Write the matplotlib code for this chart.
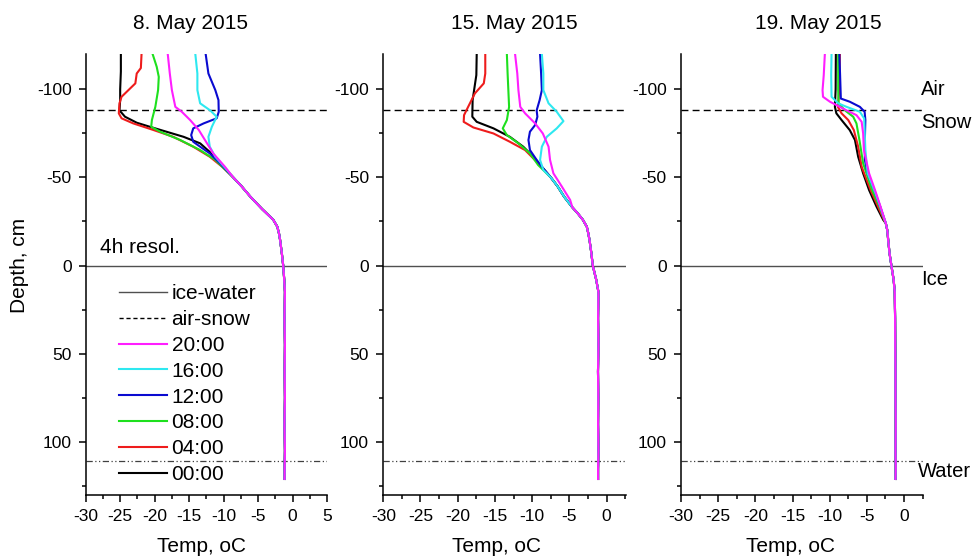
import matplotlib
matplotlib.use("Agg")
import matplotlib.pyplot as plt
from matplotlib.lines import Line2D
from matplotlib.ticker import MultipleLocator
import matplotlib.transforms as mtransforms

plt.rcParams['font.family'] = ['Liberation Sans', 'DejaVu Sans']
plt.rcParams['axes.unicode_minus'] = False

# --- data: depth (cm, negative = above ice surface) and temperature (oC) ---
titles = ["8. May 2015", "15. May 2015", "19. May 2015"]
times = ["00:00", "04:00", "08:00", "12:00", "16:00", "20:00"]
colors = ["#000000", "#ee1c1c", "#1ee01e", "#0a0ad0", "#2ee8f0", "#ff1eff"]

air_snow = -88
ice_water = 0
ice_bottom = 111

# 8 May, upper (air/snow) part of each profile
d1_0000 = [-120, -110, -100, -94, -88, -84.4, -81, -78.7, -73, -69.3, -64.6, -57]
t1_0000 = [-24.9, -24.9, -25.0, -25.0, -25.1, -24.3, -22.6, -20.7, -15.8, -13.4, -12.05, -10.3]
d1_0400 = [-120, -112, -108.9, -103.3, -99.5, -95.7, -92, -86.3, -83.5, -80.6, -76.9, -73, -67.4, -61.7, -56]
t1_0400 = [-21.9, -22.0, -22.6, -22.8, -23.8, -24.8, -25.1, -25.2, -24.8, -23.1, -20.2, -17.3, -14.4, -12.0, -10.2]
d1_0800 = [-120, -112.7, -107, -99.5, -90, -82.5, -78.7, -75.9, -71.2, -65.5, -59.9]
t1_0800 = [-20.3, -19.7, -19.4, -19.5, -19.9, -20.4, -20.5, -19.2, -16.3, -13.4, -11.2]
d1_1200 = [-120, -108.9, -99.5, -93.8, -87.2, -83.5, -80.6, -77.8, -74, -70.2, -67.4, -63.6, -57.9]
t1_1200 = [-12.6, -12.2, -11.2, -10.74, -10.7, -11.0, -12.9, -14.4, -14.7, -14.4, -13.4, -12.0, -10.5]
d1_1600 = [-120, -108.9, -99.5, -92, -88, -84.4, -78.7, -73, -67.4, -61.7, -54.2]
t1_1600 = [-14.1, -13.8, -13.8, -13.4, -11.95, -11.0, -11.7, -12.2, -12.0, -11.2, -9.5]
d1_2000 = [-120, -108.9, -99.5, -90, -87.2, -82.5, -76.9, -71.2, -63.6, -56]
t1_2000 = [-18.1, -17.8, -17.5, -17.0, -16.06, -14.85, -13.6, -12.7, -11.5, -9.8]
# 8 May, shared lower part (snow and ice)
d1_tail = [-50, -45, -39, -32, -26, -22, -18, -14.5, -7, 0, 8, 15, 30, 45, 60, 75, 90, 105, 115, 121]
t1_tail = [-8.6, -7.4, -6.1, -4.4, -2.8, -2.2, -1.95, -1.8, -1.55, -1.35, -1.2, -1.1, -1.16, -1.1, -1.14, -1.1, -1.16, -1.1, -1.14, -1.15]

# 15 May
d2_0000 = [-120, -108, -99.5, -93.8, -84.4, -81.5, -77.8, -73, -67.4, -61.7, -56]
t2_0000 = [-17.45, -17.5, -17.8, -18.0, -18.04, -17.45, -15.2, -13.0, -11.2, -9.84, -8.7]
d2_0400 = [-120, -108.9, -103.3, -97.6, -90, -85.3, -81.5, -78.3, -74.9, -70.2, -65.5, -58.9]
t2_0400 = [-16.3, -16.3, -16.5, -17.7, -18.6, -19.15, -19.2, -17.9, -15.2, -13.0, -10.96, -9.4]
d2_0800 = [-120, -108.9, -90, -82.5, -77.8, -74, -69.3, -63.6, -57]
t2_0800 = [-13.4, -13.3, -13.1, -13.4, -13.95, -13.4, -11.85, -10.3, -9.2]
d2_1200 = [-120, -108.9, -99.5, -93.8, -88, -84.4, -79.7, -75.9, -71.2, -65.5, -59.9, -56]
t2_1200 = [-8.94, -8.8, -8.7, -9.0, -9.4, -9.3, -9.6, -10.3, -10.5, -10.3, -9.4, -8.7]
d2_1600 = [-120, -108.9, -99.5, -92, -87.2, -81.9, -77.8, -73, -67.4, -59.9, -54.2]
t2_1600 = [-8.7, -8.5, -8.5, -7.8, -6.7, -5.8, -6.7, -8.04, -8.7, -8.94, -8.5]
d2_2000 = [-120, -108.9, -99.5, -90, -86.3, -80.6, -74.9, -67.4, -59.9, -52.3, -44.7, -37.2]
t2_2000 = [-12.3, -12.0, -11.85, -11.6, -10.95, -9.6, -8.57, -7.8, -7.6, -7.15, -6.0, -4.9]
d2_tail = [-50, -45, -39, -33, -29.7, -26, -22, -18, -14.5, -7, 0, 8, 15, 30, 45, 60, 75, 90, 105, 115, 121]
t2_tail = [-7.5, -6.6, -5.7, -4.6, -3.9, -3.2, -2.66, -2.45, -2.3, -2.05, -1.86, -1.4, -1.1, -1.15, -1.1, -1.16, -1.12, -1.15, -1.1, -1.15, -1.15]

# 19 May
d3_0000 = [-120, -100, -90, -86.3, -82.5, -76.8, -71.2, -61.7, -52.3, -42.8, -33.4, -25.9]
t3_0000 = [-9.17, -9.2, -9.3, -9.1, -8.4, -7.3, -6.6, -6.17, -5.5, -4.7, -3.7, -2.8]
d3_0400 = [-120, -100, -90, -86.3, -82.5, -76.8, -67.4, -56, -42.8, -33.4, -25]
t3_0400 = [-8.63, -8.7, -8.9, -8.4, -7.5, -6.75, -6.17, -5.7, -4.5, -3.5, -2.6]
d3_0800 = [-120, -99.5, -92, -88, -84.4, -80.6, -71.2, -57.9, -42.8, -33.4, -25]
t3_0800 = [-8.86, -8.86, -8.8, -7.95, -6.84, -6.4, -6.0, -5.5, -4.3, -3.3, -2.55]
d3_1200 = [-120, -108, -94.7, -92.9, -90, -87.2, -82.5, -71.2, -59.9, -52.3, -42.8, -33.4]
t3_1200 = [-8.7, -8.6, -8.5, -7.3, -5.94, -5.3, -5.2, -5.27, -5.27, -4.9, -4.0, -3.2]
d3_1600 = [-120, -108, -95.7, -92, -90, -87.2, -83.4, -76.8, -65.5, -52.3, -42.8, -33.4]
t3_1600 = [-9.75, -9.8, -9.75, -8.86, -7.73, -5.94, -5.36, -5.3, -5.2, -4.9, -4.0, -3.2]
d3_2000 = [-120, -108, -99.5, -95.7, -92.9, -91, -88, -85.3, -81.5, -74.9, -65.5, -52.3, -42.8, -33.4]
t3_2000 = [-10.65, -10.8, -10.96, -10.9, -9.97, -9.1, -7.73, -6.4, -5.7, -5.5, -5.4, -4.7, -3.9, -3.16]
d3_tail = [-24, -20, -14.5, -7, 0, 8, 15, 30, 45, 60, 75, 90, 105, 115, 121]
t3_tail = [-2.45, -2.25, -2.13, -1.95, -1.7, -1.4, -1.25, -1.2, -1.18, -1.15, -1.15, -1.12, -1.15, -1.12, -1.15]

panels = [
    ([(d1_0000, t1_0000), (d1_0400, t1_0400), (d1_0800, t1_0800),
      (d1_1200, t1_1200), (d1_1600, t1_1600), (d1_2000, t1_2000)], (d1_tail, t1_tail)),
    ([(d2_0000, t2_0000), (d2_0400, t2_0400), (d2_0800, t2_0800),
      (d2_1200, t2_1200), (d2_1600, t2_1600), (d2_2000, t2_2000)], (d2_tail, t2_tail)),
    ([(d3_0000, t3_0000), (d3_0400, t3_0400), (d3_0800, t3_0800),
      (d3_1200, t3_1200), (d3_1600, t3_1600), (d3_2000, t3_2000)], (d3_tail, t3_tail)),
]


def full_profile(upper, tail):
    # upper part of a profile followed by the shared lower part below it
    d, t = list(upper[0]), list(upper[1])
    for dd, tt in zip(tail[0], tail[1]):
        if dd > d[-1]:
            d.append(dd)
            t.append(tt)
    return d, t


fig = plt.figure(figsize=(9.74, 5.56), dpi=100)
axes_boxes = [(0.088, 0.110, 0.2477, 0.793),
              (0.3935, 0.110, 0.2492, 0.793),
              (0.6992, 0.110, 0.2488, 0.793)]
xlims = [(-30, 5), (-30, 2.6), (-30, 2.6)]
title_x = [0.1956, 0.5277, 0.8398]
xlabel_x = [0.478, 0.468, 0.45]

for i, (box, (profiles, tail)) in enumerate(zip(axes_boxes, panels)):
    ax = fig.add_axes(box)
    for (upper, c) in zip(profiles, colors):
        d, t = full_profile(upper, tail)
        ax.plot(t, d, color=c, lw=1.5, zorder=3)

    ax.axhline(ice_water, color="#505050", lw=1.0, zorder=2)
    ax.axhline(air_snow, color="black", lw=1.0, ls=(0, (5, 3)), zorder=2)
    ax.axhline(ice_bottom, color="#404040", lw=0.9, ls=(0, (5, 2, 1, 2, 1, 2)), zorder=2)

    ax.set_xlim(*xlims[i])
    ax.set_ylim(130, -120)
    ax.xaxis.set_major_locator(MultipleLocator(5))
    ax.xaxis.set_minor_locator(MultipleLocator(2.5))
    ax.set_yticks([-100, -50, 0, 50, 100])
    ax.set_yticks([-75, -25, 25, 75, 125], minor=True)
    ax.spines['top'].set_visible(False)
    ax.spines['right'].set_visible(False)
    for s in ('left', 'bottom'):
        ax.spines[s].set_linewidth(1.1)
    ax.tick_params(which='major', direction='out', length=5.2, width=1.1,
                   labelsize=12.5, pad=5)
    ax.tick_params(which='minor', direction='out', length=2.6, width=1.1)

    ax.set_xlabel("Temp, oC", fontsize=15)
    ax.xaxis.set_label_coords(xlabel_x[i], -0.095)
    fig.text(title_x[i], 0.958, titles[i], fontsize=15, ha='center', va='center')

    if i == 0:
        ax.set_ylabel("Depth, cm", fontsize=15)
        ax.yaxis.set_label_coords(-0.235, 0.52)
        ax.text(-27.9, -10, "4h resol.", fontsize=15, va='center', ha='left')
        handles = [Line2D([], [], color="#505050", lw=1.0),
                   Line2D([], [], color="black", lw=1.0, ls=(0, (3, 2)))]
        labels = ["ice-water", "air-snow"]
        for c, tm in zip(colors[::-1], times[::-1]):
            handles.append(Line2D([], [], color=c, lw=1.5))
            labels.append(tm)
        ax.legend(handles, labels, loc='upper left', bbox_to_anchor=(0.139, 0.478),
                  frameon=False, fontsize=15, handlelength=2.3, handletextpad=0.21,
                  labelspacing=0.33, borderpad=0, borderaxespad=0)

    if i == 2:
        trans = mtransforms.blended_transform_factory(ax.transAxes, ax.transData)
        for label, x, y in [("Air", 0.99, -100), ("Snow", 0.99, -81),
                            ("Ice", 0.99, 8), ("Water", 0.978, 117)]:
            ax.text(x, y, label, transform=trans, fontsize=14.5,
                    ha='left', va='center', clip_on=False)

fig.savefig("out.png", dpi=100)
